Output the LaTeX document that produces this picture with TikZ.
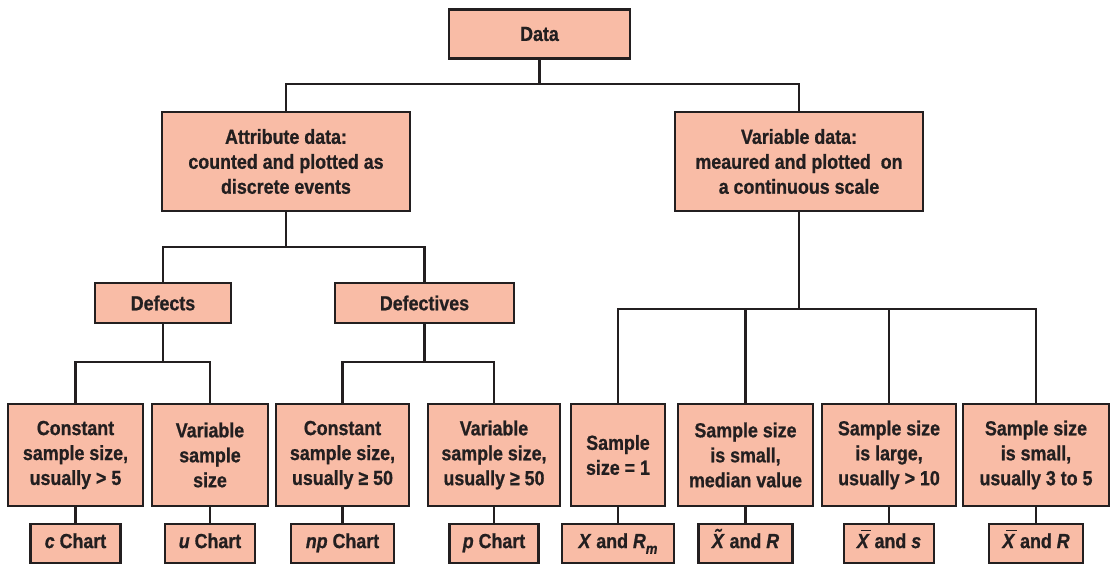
\documentclass[tikz,border=0pt]{standalone}
\usepackage{fontspec}
\setmainfont{Liberation Sans}[FakeStretch=0.875,BoldFeatures={FakeBold=0.8},BoldItalicFeatures={FakeBold=0.8}]
\definecolor{boxfill}{HTML}{F9BCA6}
\definecolor{ink}{HTML}{231F20}
% X with a bar, X with a tilde, and R with subscript m
\newcommand\xbarsym{\makebox[0pt][l]{\hspace{0.2em}\rule[0.82em]{0.5em}{0.08em}}\textit{X}}
\newcommand\xtilsym{\makebox[0pt][l]{\hspace{0.12em}\raisebox{0.22em}{\itshape\char"02DC}}\textit{X}}
\newcommand\rmsym{\textit{R}\raisebox{-0.28em}{\fontsize{8.5}{9}\selectfont\itshape m}}
\begin{document}
\begin{tikzpicture}[x=0.02cm,y=-0.02cm,
  box/.style={draw=ink,line width=1.4pt,fill=boxfill,inner sep=0pt,
    align=center,text=ink,font=\fontsize{11.6}{14.2}\selectfont\bfseries},
  chartbox/.style={box,minimum height=39*0.02cm,text height=0.72em,text depth=0.2em},
  link/.style={draw=ink,line width=1.15pt}]
\useasboundingbox (0,0) rectangle (1112,564);

% top levels
\node[box,minimum width=181*0.02cm,minimum height=49*0.02cm] (data) at (539.5,34) {Data};
\node[box,minimum width=248*0.02cm,minimum height=99*0.02cm] (attr) at (286,161.5)
  {Attribute data:\\counted and plotted as\\discrete events};
\node[box,minimum width=248*0.02cm,minimum height=99*0.02cm] (var) at (799,161.5)
  {Variable data:\\meaured and plotted\ \ on\\a continuous scale};
\node[box,minimum width=136*0.02cm,minimum height=40*0.02cm] (defects) at (163,303) {Defects};
\node[box,minimum width=179*0.02cm,minimum height=40*0.02cm] (defectives) at (424.5,303) {Defectives};

% conditions
\node[box,minimum width=135*0.02cm,minimum height=102*0.02cm] (l1) at (75.5,455)
  {Constant\\sample size,\\usually > 5};
\node[box,minimum width=116*0.02cm,minimum height=102*0.02cm] (l2) at (210,455)
  {Variable\\sample\\size};
\node[box,minimum width=133*0.02cm,minimum height=102*0.02cm] (l3) at (342.5,455)
  {Constant\\sample size,\\usually ≥ 50};
\node[box,minimum width=132*0.02cm,minimum height=102*0.02cm] (l4) at (494,455)
  {Variable\\sample size,\\usually ≥ 50};
\node[box,minimum width=94*0.02cm,minimum height=102*0.02cm] (l5) at (618,455)
  {Sample\\size = 1};
\node[box,minimum width=135*0.02cm,minimum height=102*0.02cm] (l6) at (745.5,455)
  {Sample size\\is small,\\median value};
\node[box,minimum width=134*0.02cm,minimum height=102*0.02cm] (l7) at (889,455)
  {Sample size\\is large,\\usually > 10};
\node[box,minimum width=146*0.02cm,minimum height=102*0.02cm] (l8) at (1036,455)
  {Sample size\\is small,\\usually 3 to 5};

% chart types
\node[chartbox,minimum width=90*0.02cm] (c1) at (75.5,543.5) {\textit{c} Chart};
\node[chartbox,minimum width=90*0.02cm] (c2) at (210,543.5) {\textit{u} Chart};
\node[chartbox,minimum width=103*0.02cm] (c3) at (342.5,543.5) {\textit{np} Chart};
\node[chartbox,minimum width=89*0.02cm] (c4) at (494,543.5) {\textit{p} Chart};
\node[chartbox,minimum width=112*0.02cm] (c5) at (618,543.5) {\textit{X} and \rmsym};
\node[chartbox,minimum width=94*0.02cm] (c6) at (745.5,543.5) {\xtilsym\ and \textit{R}};
\node[chartbox,minimum width=90*0.02cm] (c7) at (889,543.5) {\xbarsym\ and \textit{s}};
\node[chartbox,minimum width=94*0.02cm] (c8) at (1036,543.5) {\xbarsym\ and \textit{R}};

% junction levels
\coordinate (h0) at (539.5,84);
\coordinate (h1) at (286,247);
\coordinate (h2) at (163,362);
\coordinate (h3) at (424.5,362);
\coordinate (h4) at (799,309);

% connectors
\draw[link] (data) -- (h0);
\draw[link] (attr.north) |- (h0) -| (var.north);
\draw[link] (attr.south) -- (h1);
\draw[link] (defects.north) |- (h1) -| (defectives.north);
\draw[link] (defects.south) -- (h2);
\draw[link] (l1.north) |- (h2) -| (l2.north);
\draw[link] (defectives.south) -- (h3);
\draw[link] (l3.north) |- (h3) -| (l4.north);
\draw[link] (var.south) -- (h4);
\draw[link] (l5.north) |- (h4) -| (l8.north);
\draw[link] (l6.north) -- (l6.north |- h4);
\draw[link] (l7.north) -- (l7.north |- h4);
\foreach \i in {1,...,8} { \draw[link] (l\i) -- (c\i); }
\end{tikzpicture}
\end{document}
